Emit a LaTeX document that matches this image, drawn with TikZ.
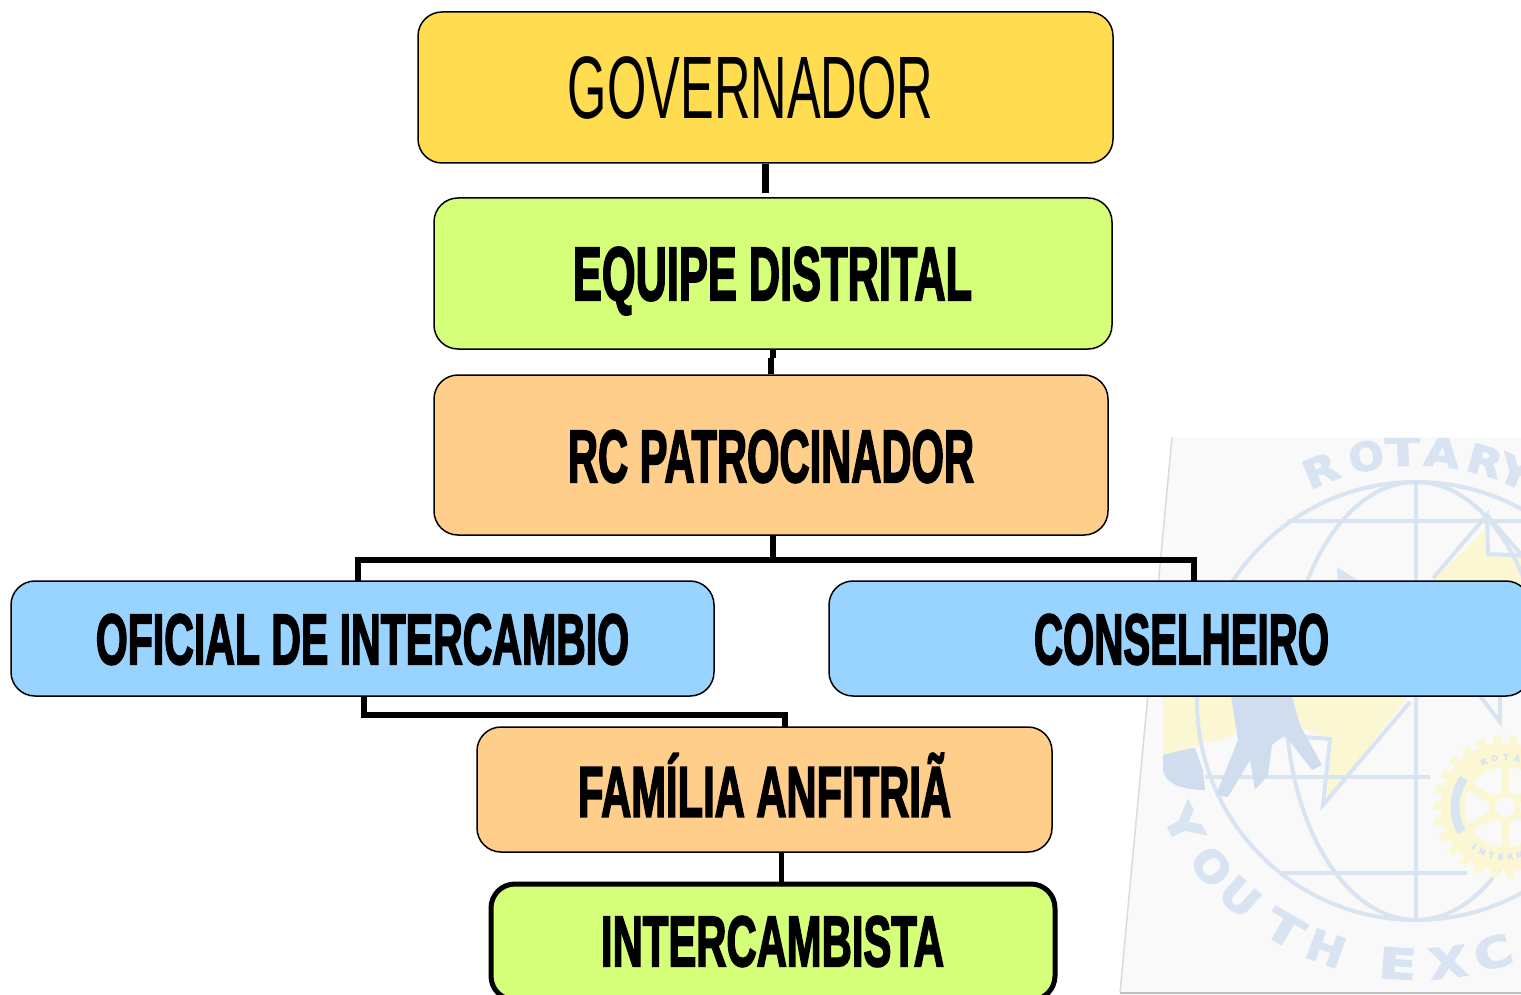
\documentclass[tikz,border=0pt]{standalone}
\usepackage{fontspec}
\usepackage{graphicx}
\usetikzlibrary{calc}
\setmainfont{Liberation Sans}
\newfontfamily\labfont[FakeBold=3]{Liberation Sans Bold}
\newfontfamily\thinfont{Liberation Sans}
\newfontfamily\markfont[FakeBold=3]{DejaVu Sans Bold}
\newlength{\capht}
\newcommand{\fitlab}[3]{\resizebox{#1pt}{#2pt}{\settoheight{\capht}{H}\raisebox{0pt}[\capht][0pt]{#3}}}
\definecolor{govc}{HTML}{FFDC50}
\definecolor{limec}{HTML}{D5FF79}
\definecolor{orangec}{HTML}{FFCE8A}
\definecolor{bluec}{HTML}{99D3FF}
\definecolor{markblue}{HTML}{D9E4F3}
\definecolor{markblued}{HTML}{CFDDEF}
\definecolor{markyellow}{HTML}{FBF7D2}
\definecolor{sheet}{HTML}{F9F9F9}
\tikzset{
  x=1pt,y=-1pt,
  orgbox/.style={draw=black,line width=1.5pt,rounded corners=24pt,inner sep=0pt,anchor=center},
  conn/.style={draw=black,line width=6pt,line cap=butt,line join=miter},
  capt/.style={inner sep=0pt,text=black,anchor=center},
  gl/.style={draw=markblue,line width=4pt},
  wm/.style={inner sep=0pt,text=markblue,anchor=center},
}
\begin{document}
\begin{tikzpicture}
\useasboundingbox (0,0) rectangle (1521,995);
\clip (0,0) rectangle (1521,995);
% watermark sheet
\fill[sheet] (1172,437) -- (1530,437) -- (1530,993) -- (1120,993) -- cycle;
\draw[gray!28,line width=1.5pt] (1172,437) -- (1120,993);
\draw[gray!50,line width=1.5pt] (1120,993) -- (1530,993);
\begin{scope}
\clip (1172,438) -- (1530,438) -- (1530,992) -- (1121,992) -- cycle;
% yellow star pieces
\fill[markyellow] (1485,530) -- (1433,580) -- (1430,600) -- (1530,600) -- (1530,556) -- (1488,554) -- cycle;
\fill[markyellow] (1295,690) -- (1412,690) -- (1327,803) -- (1330,740) -- (1285,720) -- cycle;
\fill[markyellow] (1163,690) -- (1240,690) -- (1235,735) -- (1163,755) -- cycle;
% globe
\draw[gl] (1416,701) circle[radius=219];
\draw[gl] (1416,701) ellipse[x radius=130,y radius=219];
\draw[gl] (1416,482) -- (1416,920);
\draw[gl] (1287,521) -- (1530,521);
\draw[gl] (1205,777) -- (1430,777);
\draw[gl] (1280,873) -- (1467,873);
% star outline
\draw[gl] (1410,702) -- (1323,805) -- (1330,739) -- (1280,735);
\draw[gl] (1433,578) -- (1487,515) -- (1488,554) -- (1530,556);
\draw[gl] (1487,515) -- (1530,565);
\fill[markblue] (1337,567) -- (1365,585) -- (1338,590) -- cycle;
\draw[gl] (1480,696) -- (1500,722) -- (1500,696);
% figure
\fill[markblued] (1230,690) -- (1290,690) -- (1300,725) -- (1322,765) -- (1312,770) -- (1285,735) -- (1272,745) -- (1268,775) -- (1255,790) -- (1250,760) -- (1228,797) -- (1216,795) -- (1238,740) -- cycle;
\fill[markblued] (1163,755) .. controls (1175,752) and (1190,748) .. (1195,748) -- (1203,770) -- (1205,790) .. controls (1185,790) and (1165,785) .. (1163,770) -- cycle;
% rotary wheel
\fill[markyellow] (1505,807) circle[radius=64];
\draw[markyellow,line width=9pt,dash pattern=on 8pt off 8pt] (1505,807) circle[radius=67];
\fill[sheet] (1505,807) circle[radius=40];
\foreach \a in {30,90,150,210,270,330}{\draw[markyellow,line width=8pt] (1505,807) -- ++(\a:42);}
\fill[sheet] (1505,807) circle[radius=10];
\draw[markyellow,line width=5pt] (1505,807) circle[radius=13];
\draw[markblue,line width=9pt] (1505,807) ++(150:50) arc[start angle=150,end angle=215,radius=50];
\foreach \ch/\ang [count=\i] in {R/115,O/102,T/89,A/76,R/63,Y/50}{
  \node[wm,font=\markfont\fontsize{8}{8}\selectfont,rotate=\ang-90] (wheeltop\i) at ($(1505,807)+(\ang:50pt)$) {\ch};
}
\foreach \ch/\ang [count=\i] in {I/232,N/243,T/254,E/265,R/276,N/287}{
  \node[wm,font=\markfont\fontsize{8}{8}\selectfont,rotate=\ang-270] (wheelbot\i) at ($(1505,807)+(\ang:50pt)$) {\ch};
}
% arc lettering
\foreach \ch/\ang [count=\i] in {R/112.5,O/101.5,T/93,A/84,R/74,Y/66.5}{
  \node[wm,rotate=\ang-90] (rot\i) at ($(1416,701)+(\ang:249pt)$) {\fitlab{35}{27}{\markfont\ch}};
}
\foreach \ch/\ang [count=\i] in {Y/208,O/219,U/228,T/240,H/250,E/266,X/277,C/287}{
  \node[wm,rotate=\ang-270] (you\i) at ($(1416,701)+(\ang:264pt)$) {\fitlab{38}{29}{\markfont\ch}};
}
\end{scope}
% boxes
\node[orgbox,fill=govc,minimum width=695pt,minimum height=151pt] (gov) at (765.5,87.5) {};
\node[orgbox,fill=limec,minimum width=678pt,minimum height=151pt] (eq) at (773,273.5) {};
\node[orgbox,fill=orangec,minimum width=674pt,minimum height=160pt] (rc) at (771,455) {};
\node[orgbox,fill=bluec,minimum width=703pt,minimum height=115pt] (of) at (362.5,638.5) {};
\node[orgbox,fill=bluec,minimum width=701pt,minimum height=115pt] (co) at (1179.5,638.5) {};
\node[orgbox,fill=orangec,minimum width=575pt,minimum height=125pt] (fa) at (764.5,789.5) {};
\node[orgbox,fill=limec,line width=5pt,minimum width=564pt,minimum height=116pt] (in) at (773,942) {};
% connectors
\coordinate (govend) at (765.5,193);
\coordinate (eqstub) at (773,358);
\coordinate (rcstub) at (771,358);
\coordinate (rcdrop) at (773,535);
\coordinate (bar) at (773,560);
\coordinate (ofdrop) at (358,581);
\coordinate (codrop) at (1194,581);
\coordinate (ofout) at (364,696);
\coordinate (fain) at (785,727);
\coordinate (faout) at (781,852);
\coordinate (inin) at (781,884);
\draw[conn,line width=7pt] (gov.south) -- (govend);
\draw[conn] (eq.south) -- (eqstub);
\draw[conn] (rc.north) -- (rcstub);
\draw[conn] (rcdrop) -- (bar);
\draw[conn] (ofdrop) -- (ofdrop |- bar) -- (bar) -- (codrop |- bar) -- (codrop);
\draw[conn] (ofout) -- (364,715) -- (785,715) -- (fain);
\draw[conn,line width=5pt] (faout) -- (inin);
% captions
\node[capt] (tgov) at (750.5,87.5) {\fitlab{365}{61}{\thinfont GOVERNADOR}};
\node[capt] (teq) at (772.5,274) {\fitlab{399}{52}{\labfont EQUIPE DISTRITAL}};
\node[capt] (trc) at (771,456.5) {\fitlab{406}{51}{\labfont RC PATROCINADOR}};
\node[capt] (tof) at (362.5,639.5) {\fitlab{533}{49}{\labfont OFICIAL DE INTERCAMBIO}};
\node[capt] (tco) at (1181.5,639.5) {\fitlab{295}{49}{\labfont CONSELHEIRO}};
\node[capt] (tfa) at (764.5,792) {\fitlab{373}{49}{\labfont FAMÍLIA ANFITRIÃ}};
\node[capt] (tin) at (772.5,941.5) {\fitlab{343}{49}{\labfont INTERCAMBISTA}};
\end{tikzpicture}
\end{document}
